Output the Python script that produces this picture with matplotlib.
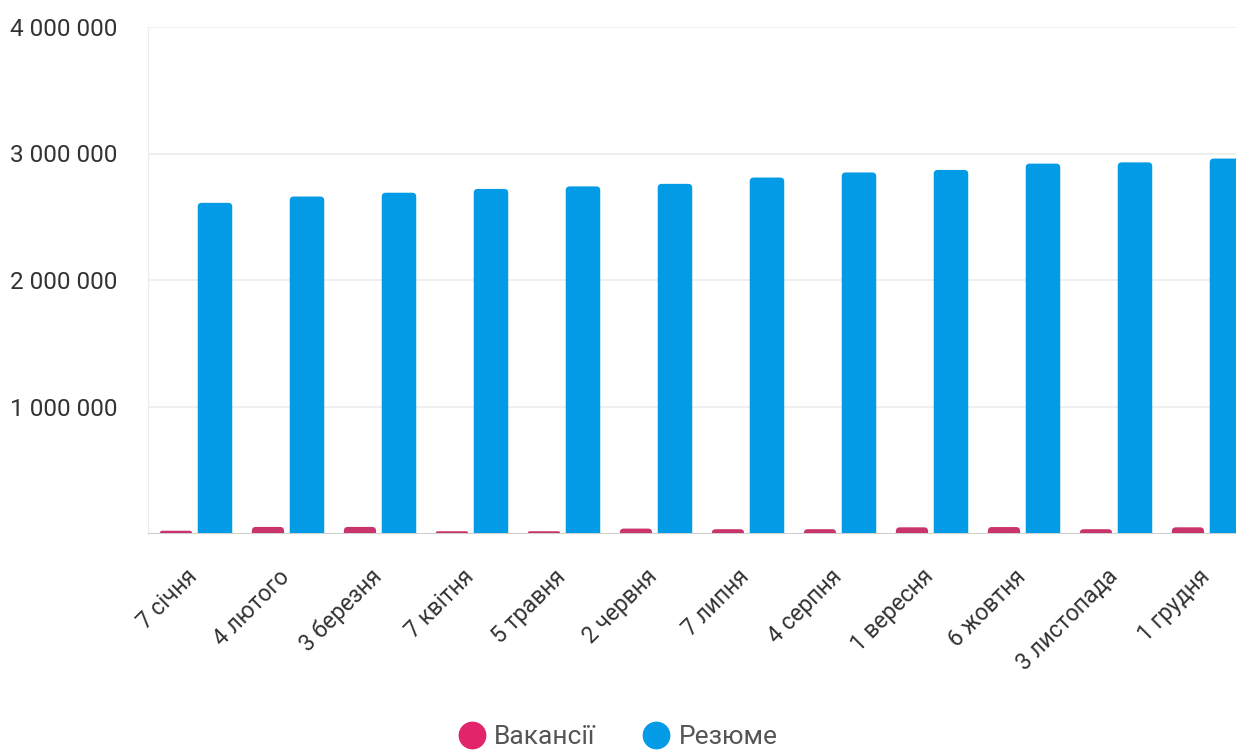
import matplotlib.pyplot as plt
from matplotlib.lines import Line2D
from matplotlib.patches import FancyBboxPatch
from matplotlib.ticker import FuncFormatter

# Monthly counts of vacancies and CVs
months = ["7 січня", "4 лютого", "3 березня", "7 квітня", "5 травня", "2 червня",
          "7 липня", "4 серпня", "1 вересня", "6 жовтня", "3 листопада", "1 грудня"]
vacancies = [18000, 48000, 48000, 14000, 14000, 35000,
             30000, 30000, 45000, 47000, 30000, 45000]
resumes = [2610000, 2660000, 2690000, 2720000, 2740000, 2760000,
           2810000, 2850000, 2870000, 2920000, 2930000, 2960000]
y_ticks = [1000000, 2000000, 3000000, 4000000]

pink = '#c9346c'
blue = '#039be5'

plt.rcParams['font.family'] = ['Roboto', 'DejaVu Sans']

W, H = 1236, 756
fig = plt.figure(figsize=(W / 100, H / 100), dpi=100)
# the original chart is cut off on the right, so the axes runs to the edge
ax = fig.add_axes([148 / W, 223 / H, 1088 / W, 506 / H])

ax.set_xlim(-0.5, -0.5 + 1088 / 92)
ax.set_ylim(0, 4000000)

# data units per pixel, used to give the bars rounded tops
x_px = 1 / 92
y_px = 4000000 / 506


def rounded_bar(xc, h, width, color, r_px=4):
    r = min(r_px, h / y_px)
    box = FancyBboxPatch((xc - width / 2, -r * y_px), width, h + r * y_px,
                         boxstyle=f"round,pad=0,rounding_size={r * x_px}",
                         mutation_aspect=y_px / x_px, linewidth=0,
                         facecolor=color, zorder=3)
    ax.add_patch(box)


for i in range(len(months)):
    rounded_bar(i - 0.196, vacancies[i], 0.35, pink)
    rounded_bar(i + 0.228, resumes[i], 0.375, blue)

# y axis: labels left-aligned at the far left of the figure
ax.set_yticks(y_ticks)
ax.yaxis.set_major_formatter(FuncFormatter(lambda v, p: f"{int(v):,}".replace(",", " ")))
ax.tick_params(axis='y', length=0, pad=99, labelsize=17.5, labelcolor='#333333')
for lbl in ax.get_yticklabels():
    lbl.set_horizontalalignment('left')

# x axis: rotated month labels
ax.set_xticks(range(len(months)))
ax.set_xticklabels(months, rotation=45, ha='right', va='center',
                   rotation_mode='anchor', fontsize=16.5, color='#333333')
ax.tick_params(axis='x', length=0, pad=29)

ax.grid(axis='y', color='#ececec', linewidth=1.2, zorder=0)
for side in ['right', 'top']:
    ax.spines[side].set_visible(False)
ax.spines['left'].set_color('#ececec')
ax.spines['bottom'].set_color('#d0d0d0')

handles = [Line2D([], [], marker='o', linestyle='', markersize=19,
                  markerfacecolor='#e2246a', markeredgecolor='#e2246a'),
           Line2D([], [], marker='o', linestyle='', markersize=19,
                  markerfacecolor=blue, markeredgecolor=blue)]
fig.legend(handles, ["Вакансії", "Резюме"], loc='center', ncol=2,
           bbox_to_anchor=(618 / W, 1 - 737 / H), frameon=False,
           fontsize=19, labelcolor='#555555', handlelength=1.0,
           handletextpad=0.35, columnspacing=1.8, borderpad=0)

plt.savefig('out.png', dpi=100)
